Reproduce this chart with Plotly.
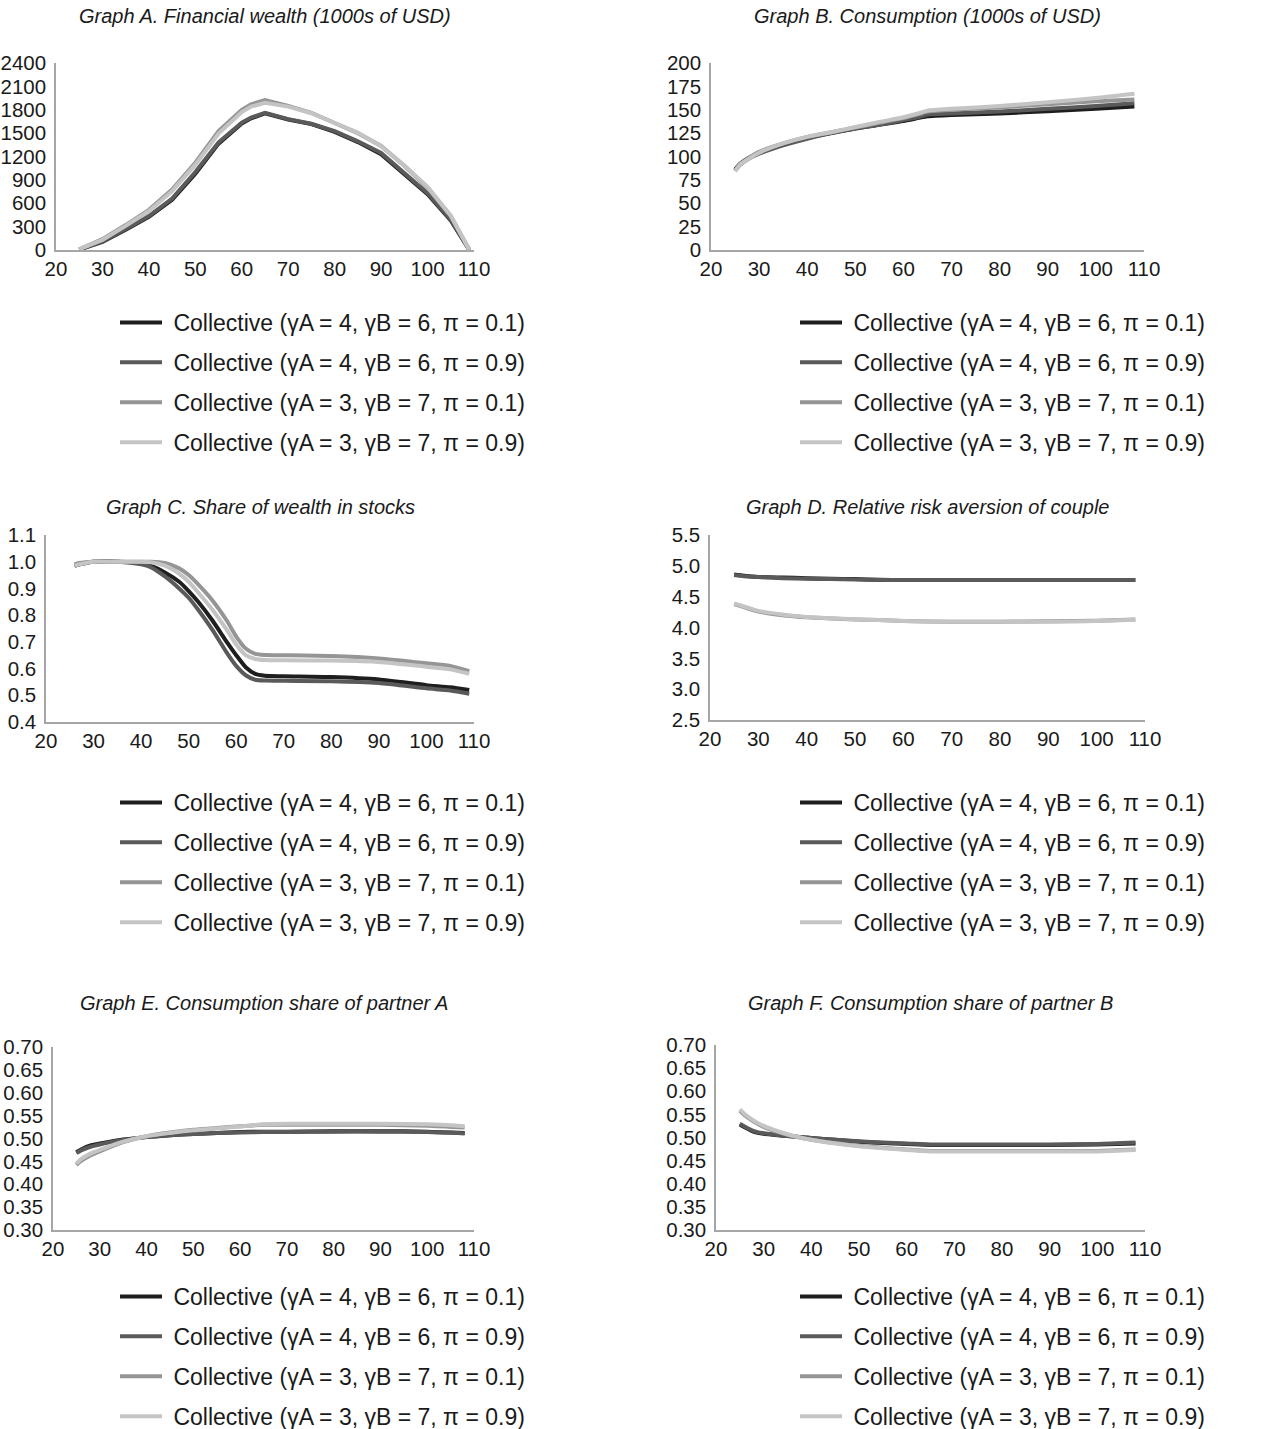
import plotly.graph_objects as go

W, H = 1271, 1429

series_names = [
    "Collective (γA = 4, γB = 6, π = 0.1)",
    "Collective (γA = 4, γB = 6, π = 0.9)",
    "Collective (γA = 3, γB = 7, π = 0.1)",
    "Collective (γA = 3, γB = 7, π = 0.9)",
]
series_colors = ["#1e1e1e", "#5a5a5a", "#959595", "#c4c4c4"]

# ---- Graph A: financial wealth (1000s USD)
ages_A = [25, 30, 35, 40, 45, 50, 55, 60, 62, 65, 70, 75, 80, 85, 90, 95, 100, 105, 109]
wealth_s1 = [5, 105, 260, 425, 645, 980, 1365, 1625, 1690, 1755, 1675, 1615, 1515, 1385, 1230, 975, 715, 380, 0]
wealth_s2 = [5, 110, 270, 435, 660, 1000, 1380, 1635, 1700, 1760, 1680, 1620, 1525, 1395, 1245, 990, 730, 390, 0]
wealth_s3 = [10, 140, 320, 515, 775, 1120, 1525, 1800, 1870, 1925, 1850, 1760, 1630, 1500, 1335, 1080, 800, 435, 0]
wealth_s4 = [10, 130, 310, 500, 755, 1095, 1495, 1770, 1840, 1890, 1840, 1755, 1630, 1505, 1330, 1085, 810, 440, 0]

# ---- Graph B: consumption (1000s USD)
ages_B = [25, 26, 28, 30, 35, 40, 45, 50, 55, 60, 63, 65, 70, 80, 90, 100, 108]
cons_s1 = [86, 92, 99, 104, 113, 120, 125, 130, 134, 138, 141, 143, 144.5, 146, 148.5, 151, 153.5]
cons_s2 = [85, 91, 98, 103, 112, 119, 125, 130, 134, 139, 142, 145, 146, 148, 151, 154, 157]
cons_s3 = [85, 92, 99, 105, 114, 121, 126, 131, 136, 141, 145, 148, 150, 152.5, 156, 159, 161]
cons_s4 = [84, 91, 98, 104, 114, 121, 126, 131.5, 137, 142, 146, 149, 151, 154, 158, 162.5, 167]

# ---- Graph C: share of wealth in stocks
ages_C = [26, 27, 30, 35, 40, 42, 45, 48, 50, 52, 55, 58, 60, 62, 64, 66, 70, 80, 90, 100, 105, 109]
stock_s1 = [0.985, 0.99, 1.0, 1.0, 0.995, 0.985, 0.96, 0.925, 0.89, 0.85, 0.78, 0.70, 0.65, 0.605, 0.58, 0.573, 0.571, 0.568, 0.559, 0.538, 0.53, 0.52]
stock_s2 = [0.985, 0.99, 1.0, 1.0, 0.99, 0.98, 0.945, 0.90, 0.865, 0.82, 0.745, 0.66, 0.61, 0.575, 0.558, 0.555, 0.554, 0.553, 0.546, 0.526, 0.518, 0.506]
stock_s3 = [0.99, 0.995, 1.0, 1.0, 1.0, 1.0, 0.995, 0.975, 0.95, 0.915, 0.855, 0.78, 0.72, 0.675, 0.655, 0.651, 0.65, 0.647, 0.638, 0.62, 0.61, 0.59]
stock_s4 = [0.985, 0.99, 1.0, 1.0, 1.0, 0.998, 0.985, 0.955, 0.925, 0.885, 0.82, 0.745, 0.69, 0.65, 0.636, 0.632, 0.631, 0.63, 0.625, 0.607, 0.597, 0.58]

# ---- Graph D: relative risk aversion of couple
ages_D = [25, 27, 30, 35, 40, 45, 50, 55, 60, 70, 80, 90, 100, 108]
rra_s1 = [4.86, 4.84, 4.82, 4.81, 4.80, 4.79, 4.785, 4.775, 4.77, 4.77, 4.77, 4.77, 4.77, 4.77]
rra_s2 = [4.85, 4.83, 4.82, 4.80, 4.79, 4.785, 4.78, 4.77, 4.77, 4.77, 4.77, 4.77, 4.77, 4.77]
rra_s3 = [4.38, 4.33, 4.26, 4.20, 4.165, 4.145, 4.13, 4.12, 4.105, 4.095, 4.095, 4.10, 4.11, 4.13]
rra_s4 = [4.39, 4.34, 4.27, 4.21, 4.17, 4.15, 4.135, 4.12, 4.105, 4.095, 4.095, 4.095, 4.105, 4.125]

# ---- Graph E / F: consumption shares
ages_EF = [25, 26, 28, 30, 35, 40, 45, 50, 55, 60, 65, 70, 80, 90, 100, 108]
shareA_s1 = [0.470, 0.476, 0.485, 0.489, 0.498, 0.503, 0.507, 0.510, 0.512, 0.514, 0.515, 0.515, 0.516, 0.516, 0.515, 0.512]
shareA_s2 = [0.468, 0.474, 0.482, 0.487, 0.497, 0.503, 0.507, 0.510, 0.512, 0.513, 0.514, 0.514, 0.515, 0.515, 0.514, 0.511]
shareA_s3 = [0.442, 0.451, 0.463, 0.472, 0.492, 0.505, 0.513, 0.519, 0.523, 0.527, 0.530, 0.530, 0.530, 0.530, 0.528, 0.524]
shareA_s4 = [0.445, 0.455, 0.467, 0.475, 0.493, 0.505, 0.512, 0.518, 0.522, 0.526, 0.531, 0.532, 0.532, 0.532, 0.531, 0.527]

shareB_s1 = [0.528, 0.522, 0.512, 0.508, 0.503, 0.499, 0.495, 0.491, 0.488, 0.486, 0.484, 0.484, 0.484, 0.484, 0.485, 0.487]
shareB_s2 = [0.530, 0.524, 0.514, 0.509, 0.503, 0.499, 0.495, 0.492, 0.489, 0.487, 0.485, 0.485, 0.485, 0.485, 0.486, 0.489]
shareB_s3 = [0.558, 0.548, 0.534, 0.523, 0.506, 0.495, 0.488, 0.482, 0.478, 0.474, 0.471, 0.471, 0.471, 0.471, 0.471, 0.474]
shareB_s4 = [0.561, 0.551, 0.536, 0.525, 0.507, 0.495, 0.487, 0.481, 0.477, 0.473, 0.470, 0.470, 0.470, 0.470, 0.470, 0.473]

x_ticks = [20, 30, 40, 50, 60, 70, 80, 90, 100, 110]

panels = [
    dict(title="Graph A. Financial wealth (1000s of USD)", x=ages_A,
         ys=[wealth_s1, wealth_s2, wealth_s3, wealth_s4], yr=[0, 2400], dt=300, fmt="d",
         px=(56, 474), py=(63, 250), ty=16, leg=(115, 301), shape="linear"),
    dict(title="Graph B. Consumption (1000s of USD)", x=ages_B,
         ys=[cons_s1, cons_s2, cons_s3, cons_s4], yr=[0, 200], dt=25, fmt="d",
         px=(711, 1144), py=(63, 250), ty=16, leg=(795, 301), shape="spline"),
    dict(title="Graph C. Share of wealth in stocks", x=ages_C,
         ys=[stock_s1, stock_s2, stock_s3, stock_s4], yr=[0.4, 1.1], dt=0.1, fmt=".1f",
         px=(46, 474), py=(535, 722), ty=507, leg=(115, 781), shape="spline"),
    dict(title="Graph D. Relative risk aversion of couple", x=ages_D,
         ys=[rra_s1, rra_s2, rra_s3, rra_s4], yr=[2.5, 5.5], dt=0.5, fmt=".1f",
         px=(710, 1145), py=(535, 720), ty=507, leg=(795, 781), shape="spline"),
    dict(title="Graph E. Consumption share of partner A", x=ages_EF,
         ys=[shareA_s1, shareA_s2, shareA_s3, shareA_s4], yr=[0.3, 0.7], dt=0.05, fmt=".2f",
         px=(53, 474), py=(1047, 1230), ty=1003, leg=(115, 1275), shape="spline"),
    dict(title="Graph F. Consumption share of partner B", x=ages_EF,
         ys=[shareB_s1, shareB_s2, shareB_s3, shareB_s4], yr=[0.3, 0.7], dt=0.05, fmt=".2f",
         px=(716, 1145), py=(1045, 1230), ty=1003, leg=(795, 1275), shape="spline"),
]

FONT = "Liberation Sans, Arial, Helvetica, sans-serif"
TXT = "#1a1a1a"
TICK = 20.5

fig = go.Figure()
layout = dict(
    template="none",
    width=W, height=H, margin=dict(l=0, r=0, t=0, b=0, pad=0, autoexpand=False),
    paper_bgcolor="white", plot_bgcolor="white",
    font=dict(family=FONT, color=TXT, size=21),
    annotations=[],
)

for k, p in enumerate(panels):
    n = "" if k == 0 else str(k + 1)
    legname = "legend" if k == 0 else f"legend{k + 1}"
    for i in range(4):
        fig.add_trace(go.Scatter(
            x=p["x"], y=p["ys"][i], mode="lines", name="\u00a0" + series_names[i],
            line=dict(color=series_colors[i], width=4, shape=p["shape"], smoothing=0.6),
            xaxis="x" + n, yaxis="y" + n, legend=legname,
            legendgroup=f"g{k}_{i}", showlegend=True,
        ))
    x0, x1 = p["px"]
    y0, y1 = p["py"]
    layout["xaxis" + n] = dict(
        domain=[x0 / W, x1 / W], range=[20, 110], anchor="y" + n,
        tickvals=x_ticks, ticks="", showgrid=False, zeroline=False,
        showline=True, linecolor="#a6a6a6", linewidth=1.5, automargin=False,
        tickfont=dict(size=TICK, color=TXT, family=FONT), ticklabelstandoff=0,
    )
    layout["yaxis" + n] = dict(
        domain=[1 - y1 / H, 1 - y0 / H], range=p["yr"], anchor="x" + n,
        dtick=p["dt"], tick0=p["yr"][0], tickformat=p["fmt"], ticks="",
        showgrid=False, zeroline=False, automargin=False,
        showline=True, linecolor="#a6a6a6", linewidth=1.5,
        tickfont=dict(size=TICK, color=TXT, family=FONT), ticklabelstandoff=4,
    )
    lx, ly = p["leg"]
    layout[legname] = dict(
        x=lx / W, y=1 - ly / H, xanchor="left", yanchor="top",
        xref="paper", yref="paper",
        bgcolor="rgba(0,0,0,0)", borderwidth=0,
        font=dict(size=23, color=TXT, family=FONT),
        traceorder="grouped", tracegroupgap=7, itemwidth=42,
    )
    layout["annotations"].append(dict(
        text="<i>" + p["title"] + "</i>", xref="paper", yref="paper",
        x=(x0 + x1) / 2 / W, y=1 - p["ty"] / H, xanchor="center", yanchor="middle",
        showarrow=False, font=dict(size=20, color=TXT, family=FONT),
    ))

fig.update_layout(**layout)
fig.write_html("out.html")
